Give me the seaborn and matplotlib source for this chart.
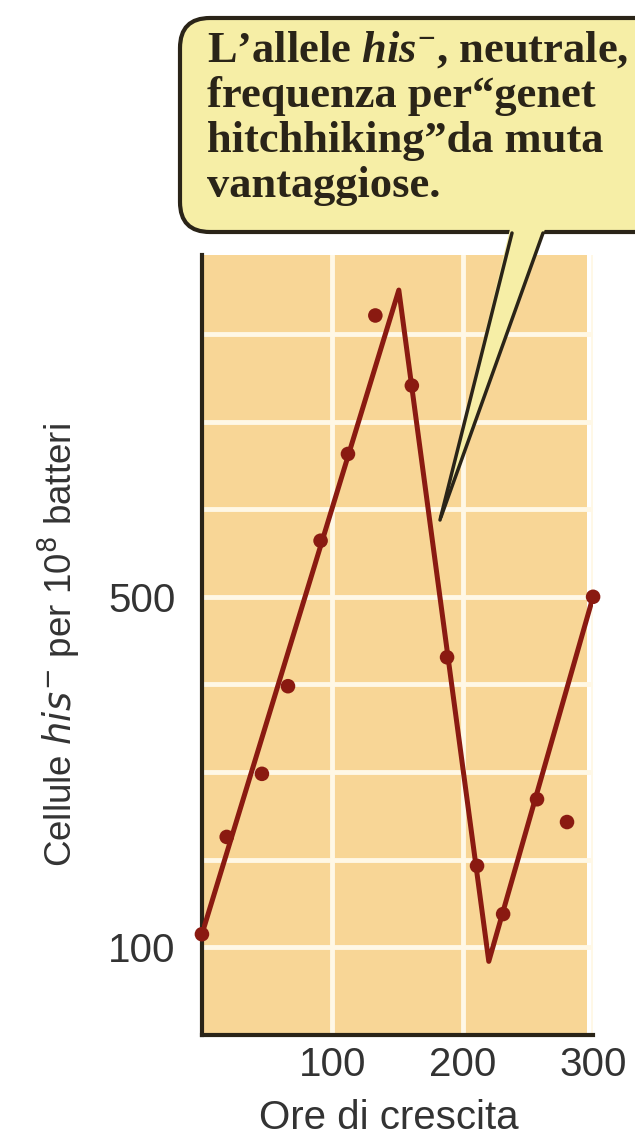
import matplotlib
matplotlib.use('Agg')
import matplotlib.pyplot as plt
import seaborn as sns
import pandas as pd
from matplotlib.patches import FancyBboxPatch, Polygon
from matplotlib.lines import Line2D

# measured points: hours of growth vs his- cells per 10^8 bacteria
hours = [0, 19, 46, 66, 91, 112, 133, 161, 188, 211, 231, 257, 280, 300]
cells = [115, 226, 298, 398, 564, 663, 821, 741, 431, 193, 138, 269, 243, 500]

# hand drawn trend line
trend_hours = [0, 151, 220, 300]
trend_cells = [115, 850, 84, 500]

ytick_vals = [100, 200, 300, 400, 500, 600, 700, 800]
ytick_text = ['100', '', '', '', '500', '', '', '']
xtick_vals = [100, 200, 300]
xtick_text = ['100', '200', '300']

callout = ['L’allele $\\mathit{his}^{-}$, neutrale,',
           'frequenza per“genet',
           'hitchhiking”da muta',
           'vantaggiose.']

PEACH = '#f8d696'
RED = '#8a1a11'
INK = '#2a2418'
BUBBLE = '#f6eea6'
H = 11.41

sns.set_theme(style='white')
plt.rcParams['font.family'] = ['Liberation Sans', 'DejaVu Sans']
plt.rcParams['mathtext.fontset'] = 'custom'
plt.rcParams['mathtext.rm'] = 'Liberation Serif:bold'
plt.rcParams['mathtext.it'] = 'Liberation Serif:italic:bold'

df_pts = pd.DataFrame({'ore': hours, 'cellule': cells})
df_fit = pd.DataFrame({'ore': trend_hours, 'cellule': trend_cells})

fig = plt.figure(figsize=(6.35, H), dpi=100)
ax = fig.add_axes([0.318, 0.0929, 0.616, 0.6836])

ax.axvspan(0, 295, color=PEACH, zorder=0, lw=0)
sns.lineplot(data=df_fit, x='ore', y='cellule', color=RED, lw=3.6, ax=ax, zorder=3)
sns.scatterplot(data=df_pts, x='ore', y='cellule', color=RED, s=110, edgecolor='none',
                ax=ax, zorder=4, clip_on=False)

ax.set_xlim(0, 300)
ax.set_ylim(0, 890)
ax.set_xticks(xtick_vals)
ax.set_xticklabels(xtick_text)
ax.set_yticks(ytick_vals)
ax.set_yticklabels(ytick_text)
ax.set_axisbelow(True)
ax.grid(True, color='#fff8e6', lw=3.5)

for side in ['top', 'right']:
    ax.spines[side].set_visible(False)
for side in ['left', 'bottom']:
    ax.spines[side].set_linewidth(3)
    ax.spines[side].set_color(INK)

ax.tick_params(axis='y', direction='in', length=18, width=2.5, color=INK, pad=19,
               labelsize=29, labelcolor='#333333')
ax.tick_params(axis='x', direction='in', length=14, width=2.5, color=INK, pad=8,
               labelsize=29, labelcolor='#333333')

ax.set_xlabel('Ore di crescita', fontsize=29, color='#333333')
ax.xaxis.set_label_coords(0.478, -0.082)
ax.set_ylabel('Cellule $\\mathit{his}^{-}$ per 10$^{8}$ batteri', fontsize=26.5,
              color='#333333', math_fontfamily='dejavusans')
ax.yaxis.set_label_coords(-0.305, 0.5)

# speech bubble
box = FancyBboxPatch((1.80, H - 2.32), 5.3, 2.14,
                     boxstyle='round,pad=0,rounding_size=0.3',
                     transform=fig.dpi_scale_trans, fc=BUBBLE, ec=INK, lw=3, zorder=10)
fig.add_artist(box)
tail = Polygon([(5.10, H - 2.29), (5.45, H - 2.29), (4.40, H - 5.19)],
               closed=True, transform=fig.dpi_scale_trans, fc=BUBBLE, lw=0, zorder=11)
fig.add_artist(tail)
fig.add_artist(Line2D([5.12, 4.40], [H - 2.33, H - 5.20], transform=fig.dpi_scale_trans,
                      color=INK, lw=2.5, zorder=12))
fig.add_artist(Line2D([5.43, 4.41], [H - 2.33, H - 5.17], transform=fig.dpi_scale_trans,
                      color=INK, lw=2.5, zorder=12))

for i, line in enumerate(callout):
    fig.text(2.07, H - 0.62 - 0.45 * i, line, transform=fig.dpi_scale_trans,
             fontsize=32, fontweight='bold', family='Liberation Serif', color=INK,
             va='baseline', math_fontfamily='custom', zorder=13)

fig.savefig('out.png', dpi=100)
